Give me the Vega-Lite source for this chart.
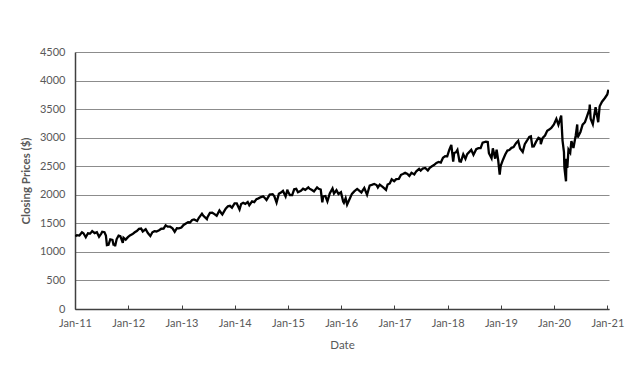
{
  "$schema": "https://vega.github.io/schema/vega-lite/v6.json",
  "width": 534,
  "height": 257,
  "autosize": {"type": "none"},
  "padding": {"left": 75, "top": 52, "right": 20, "bottom": 63},
  "background": "white",
  "config": {
    "view": {"stroke": null},
    "font": "Lato",
    "axis": {"labelColor": "#595959", "titleColor": "#595959", "labelFontSize": 11, "titleFontSize": 11.5, "labelFont": "Lato", "titleFont": "Lato"}
  },
  "data": {"values": [
    {"date": "2011-01-03", "close": 1271}, {"date": "2011-01-14", "close": 1293}, {"date": "2011-01-31", "close": 1286},
    {"date": "2011-02-18", "close": 1343}, {"date": "2011-02-28", "close": 1327}, {"date": "2011-03-16", "close": 1257},
    {"date": "2011-03-31", "close": 1326}, {"date": "2011-04-15", "close": 1320}, {"date": "2011-04-29", "close": 1364},
    {"date": "2011-05-16", "close": 1329}, {"date": "2011-05-31", "close": 1345}, {"date": "2011-06-15", "close": 1265},
    {"date": "2011-06-30", "close": 1321}, {"date": "2011-07-07", "close": 1353}, {"date": "2011-07-22", "close": 1345},
    {"date": "2011-08-01", "close": 1287}, {"date": "2011-08-08", "close": 1119}, {"date": "2011-08-19", "close": 1124},
    {"date": "2011-08-31", "close": 1219}, {"date": "2011-09-15", "close": 1209}, {"date": "2011-09-22", "close": 1130},
    {"date": "2011-09-30", "close": 1131}, {"date": "2011-10-03", "close": 1099}, {"date": "2011-10-14", "close": 1225},
    {"date": "2011-10-27", "close": 1285}, {"date": "2011-11-08", "close": 1275}, {"date": "2011-11-25", "close": 1159},
    {"date": "2011-11-30", "close": 1247}, {"date": "2011-12-15", "close": 1216}, {"date": "2011-12-30", "close": 1258},
    {"date": "2012-01-13", "close": 1289}, {"date": "2012-01-31", "close": 1312}, {"date": "2012-02-15", "close": 1343},
    {"date": "2012-02-29", "close": 1366}, {"date": "2012-03-15", "close": 1402}, {"date": "2012-03-30", "close": 1408},
    {"date": "2012-04-10", "close": 1358}, {"date": "2012-04-30", "close": 1398}, {"date": "2012-05-15", "close": 1331},
    {"date": "2012-06-01", "close": 1278}, {"date": "2012-06-15", "close": 1343}, {"date": "2012-06-29", "close": 1362},
    {"date": "2012-07-13", "close": 1357}, {"date": "2012-07-31", "close": 1379}, {"date": "2012-08-15", "close": 1405},
    {"date": "2012-08-31", "close": 1406}, {"date": "2012-09-14", "close": 1465}, {"date": "2012-09-28", "close": 1441},
    {"date": "2012-10-15", "close": 1441}, {"date": "2012-10-31", "close": 1412}, {"date": "2012-11-15", "close": 1353},
    {"date": "2012-11-30", "close": 1416}, {"date": "2012-12-14", "close": 1413}, {"date": "2012-12-31", "close": 1426},
    {"date": "2013-01-15", "close": 1472}, {"date": "2013-01-31", "close": 1498}, {"date": "2013-02-15", "close": 1519},
    {"date": "2013-02-28", "close": 1515}, {"date": "2013-03-15", "close": 1560}, {"date": "2013-03-28", "close": 1569},
    {"date": "2013-04-18", "close": 1541}, {"date": "2013-04-30", "close": 1597}, {"date": "2013-05-21", "close": 1669},
    {"date": "2013-05-31", "close": 1631}, {"date": "2013-06-24", "close": 1573}, {"date": "2013-06-28", "close": 1606},
    {"date": "2013-07-15", "close": 1682}, {"date": "2013-07-31", "close": 1686}, {"date": "2013-08-15", "close": 1661},
    {"date": "2013-08-30", "close": 1633}, {"date": "2013-09-18", "close": 1725}, {"date": "2013-09-30", "close": 1682},
    {"date": "2013-10-08", "close": 1656}, {"date": "2013-10-31", "close": 1757}, {"date": "2013-11-15", "close": 1798},
    {"date": "2013-11-29", "close": 1806}, {"date": "2013-12-13", "close": 1775}, {"date": "2013-12-31", "close": 1848},
    {"date": "2014-01-15", "close": 1848}, {"date": "2014-02-03", "close": 1742}, {"date": "2014-02-14", "close": 1838},
    {"date": "2014-02-28", "close": 1859}, {"date": "2014-03-14", "close": 1841}, {"date": "2014-03-31", "close": 1872},
    {"date": "2014-04-11", "close": 1816}, {"date": "2014-04-30", "close": 1884}, {"date": "2014-05-15", "close": 1870},
    {"date": "2014-05-30", "close": 1924}, {"date": "2014-06-13", "close": 1937}, {"date": "2014-06-30", "close": 1960},
    {"date": "2014-07-15", "close": 1973}, {"date": "2014-07-31", "close": 1931}, {"date": "2014-08-07", "close": 1910},
    {"date": "2014-08-29", "close": 2003}, {"date": "2014-09-18", "close": 2011}, {"date": "2014-09-30", "close": 1972},
    {"date": "2014-10-15", "close": 1862}, {"date": "2014-10-31", "close": 2018}, {"date": "2014-11-14", "close": 2039},
    {"date": "2014-11-28", "close": 2068}, {"date": "2014-12-16", "close": 1972}, {"date": "2014-12-29", "close": 2091},
    {"date": "2014-12-31", "close": 2059},
    {"date": "2015-01-15", "close": 1993}, {"date": "2015-01-30", "close": 1995}, {"date": "2015-02-13", "close": 2096},
    {"date": "2015-02-27", "close": 2105}, {"date": "2015-03-11", "close": 2045}, {"date": "2015-03-31", "close": 2068},
    {"date": "2015-04-15", "close": 2107}, {"date": "2015-04-30", "close": 2086}, {"date": "2015-05-21", "close": 2131},
    {"date": "2015-05-29", "close": 2107}, {"date": "2015-06-15", "close": 2084}, {"date": "2015-06-29", "close": 2058},
    {"date": "2015-07-20", "close": 2129}, {"date": "2015-07-31", "close": 2104}, {"date": "2015-08-14", "close": 2092},
    {"date": "2015-08-25", "close": 1868}, {"date": "2015-08-31", "close": 1972}, {"date": "2015-09-15", "close": 1979},
    {"date": "2015-09-29", "close": 1884}, {"date": "2015-10-15", "close": 2023}, {"date": "2015-11-03", "close": 2109},
    {"date": "2015-11-13", "close": 2023}, {"date": "2015-11-30", "close": 2080}, {"date": "2015-12-14", "close": 2013},
    {"date": "2015-12-31", "close": 2044},
    {"date": "2016-01-15", "close": 1880}, {"date": "2016-01-20", "close": 1859}, {"date": "2016-02-01", "close": 1940},
    {"date": "2016-02-11", "close": 1829}, {"date": "2016-02-29", "close": 1932}, {"date": "2016-03-15", "close": 2016},
    {"date": "2016-03-31", "close": 2060}, {"date": "2016-04-20", "close": 2102}, {"date": "2016-05-19", "close": 2040},
    {"date": "2016-06-08", "close": 2119}, {"date": "2016-06-27", "close": 2001}, {"date": "2016-07-15", "close": 2162},
    {"date": "2016-07-29", "close": 2174}, {"date": "2016-08-15", "close": 2190}, {"date": "2016-08-31", "close": 2171},
    {"date": "2016-09-09", "close": 2128}, {"date": "2016-09-22", "close": 2177}, {"date": "2016-10-14", "close": 2133},
    {"date": "2016-11-04", "close": 2085}, {"date": "2016-11-15", "close": 2180}, {"date": "2016-11-30", "close": 2199},
    {"date": "2016-12-13", "close": 2271}, {"date": "2016-12-30", "close": 2239},
    {"date": "2017-01-13", "close": 2275}, {"date": "2017-01-31", "close": 2279}, {"date": "2017-02-15", "close": 2350},
    {"date": "2017-02-28", "close": 2364}, {"date": "2017-03-15", "close": 2385}, {"date": "2017-03-31", "close": 2363},
    {"date": "2017-04-13", "close": 2329}, {"date": "2017-04-28", "close": 2384}, {"date": "2017-05-17", "close": 2357},
    {"date": "2017-05-31", "close": 2412}, {"date": "2017-06-19", "close": 2453}, {"date": "2017-06-30", "close": 2423},
    {"date": "2017-07-14", "close": 2459}, {"date": "2017-07-31", "close": 2470}, {"date": "2017-08-18", "close": 2426},
    {"date": "2017-08-31", "close": 2472}, {"date": "2017-09-15", "close": 2500}, {"date": "2017-09-29", "close": 2519},
    {"date": "2017-10-16", "close": 2557}, {"date": "2017-10-31", "close": 2575}, {"date": "2017-11-15", "close": 2564},
    {"date": "2017-11-30", "close": 2648}, {"date": "2017-12-15", "close": 2676}, {"date": "2017-12-29", "close": 2674},
    {"date": "2018-01-12", "close": 2786}, {"date": "2018-01-26", "close": 2873}, {"date": "2018-02-08", "close": 2581},
    {"date": "2018-02-15", "close": 2732}, {"date": "2018-02-27", "close": 2744}, {"date": "2018-03-09", "close": 2786},
    {"date": "2018-03-23", "close": 2588}, {"date": "2018-04-02", "close": 2582}, {"date": "2018-04-18", "close": 2708},
    {"date": "2018-05-03", "close": 2630}, {"date": "2018-05-15", "close": 2711}, {"date": "2018-06-12", "close": 2786},
    {"date": "2018-06-27", "close": 2699}, {"date": "2018-07-16", "close": 2798}, {"date": "2018-07-31", "close": 2816},
    {"date": "2018-08-15", "close": 2818}, {"date": "2018-08-29", "close": 2914}, {"date": "2018-09-20", "close": 2931},
    {"date": "2018-10-03", "close": 2925}, {"date": "2018-10-11", "close": 2728}, {"date": "2018-10-29", "close": 2641},
    {"date": "2018-11-07", "close": 2814}, {"date": "2018-11-23", "close": 2633}, {"date": "2018-12-03", "close": 2790},
    {"date": "2018-12-14", "close": 2600}, {"date": "2018-12-24", "close": 2351}, {"date": "2018-12-31", "close": 2507},
    {"date": "2019-01-15", "close": 2610}, {"date": "2019-01-31", "close": 2704}, {"date": "2019-02-15", "close": 2775},
    {"date": "2019-02-28", "close": 2784}, {"date": "2019-03-15", "close": 2822}, {"date": "2019-03-29", "close": 2834},
    {"date": "2019-04-15", "close": 2905}, {"date": "2019-04-30", "close": 2946}, {"date": "2019-05-13", "close": 2812},
    {"date": "2019-05-31", "close": 2752}, {"date": "2019-06-14", "close": 2887}, {"date": "2019-06-28", "close": 2942},
    {"date": "2019-07-15", "close": 3014}, {"date": "2019-07-26", "close": 3025}, {"date": "2019-08-05", "close": 2844},
    {"date": "2019-08-15", "close": 2847}, {"date": "2019-08-30", "close": 2926}, {"date": "2019-09-16", "close": 2998},
    {"date": "2019-09-30", "close": 2977}, {"date": "2019-10-02", "close": 2887}, {"date": "2019-10-15", "close": 2996},
    {"date": "2019-10-31", "close": 3038}, {"date": "2019-11-15", "close": 3120}, {"date": "2019-11-29", "close": 3141},
    {"date": "2019-12-13", "close": 3169}, {"date": "2019-12-31", "close": 3231},
    {"date": "2020-01-17", "close": 3330}, {"date": "2020-01-31", "close": 3226}, {"date": "2020-02-19", "close": 3386},
    {"date": "2020-02-28", "close": 2954}, {"date": "2020-03-09", "close": 2747}, {"date": "2020-03-12", "close": 2481},
    {"date": "2020-03-16", "close": 2386}, {"date": "2020-03-23", "close": 2237}, {"date": "2020-03-26", "close": 2630},
    {"date": "2020-04-01", "close": 2471}, {"date": "2020-04-09", "close": 2790}, {"date": "2020-04-21", "close": 2737},
    {"date": "2020-04-29", "close": 2940}, {"date": "2020-05-13", "close": 2820}, {"date": "2020-05-29", "close": 3044},
    {"date": "2020-06-08", "close": 3232}, {"date": "2020-06-11", "close": 3002}, {"date": "2020-06-30", "close": 3100},
    {"date": "2020-07-15", "close": 3227}, {"date": "2020-07-31", "close": 3271}, {"date": "2020-08-14", "close": 3373},
    {"date": "2020-08-31", "close": 3500}, {"date": "2020-09-02", "close": 3580}, {"date": "2020-09-08", "close": 3332},
    {"date": "2020-09-23", "close": 3237}, {"date": "2020-10-12", "close": 3535}, {"date": "2020-10-30", "close": 3270},
    {"date": "2020-11-09", "close": 3550}, {"date": "2020-11-25", "close": 3630}, {"date": "2020-12-15", "close": 3695},
    {"date": "2020-12-31", "close": 3756}, {"date": "2021-01-08", "close": 3840}
  ]},
  "mark": {"type": "line", "color": "black", "strokeWidth": 2.3, "clip": true},
  "encoding": {
    "x": {
      "field": "date", "type": "temporal", "title": "Date",
      "scale": {"domain": ["2011-01-01", "2021-01-12"], "nice": false},
      "axis": {
        "format": "%b-%y", "tickCount": {"interval": "year", "step": 1},
        "grid": false, "domainColor": "#404040", "domainWidth": 1.5,
        "tickColor": "#404040", "tickSize": -4, "tickWidth": 1,
        "labelPadding": 12, "labelAlign": "center", "titlePadding": 11, "titleFontWeight": "normal"
      }
    },
    "y": {
      "field": "close", "type": "quantitative", "title": "Closing Prices ($)",
      "scale": {"domain": [0, 4500], "nice": false},
      "axis": {
        "values": [0, 500, 1000, 1500, 2000, 2500, 3000, 3500, 4000, 4500],
        "format": "d",
        "grid": true, "gridColor": "#8c8c8c", "gridWidth": 1,
        "domainColor": "#404040", "domainWidth": 1.5, "ticks": false,
        "labelPadding": 10, "titlePadding": 8, "titleFontWeight": "bold"
      }
    }
  }
}
